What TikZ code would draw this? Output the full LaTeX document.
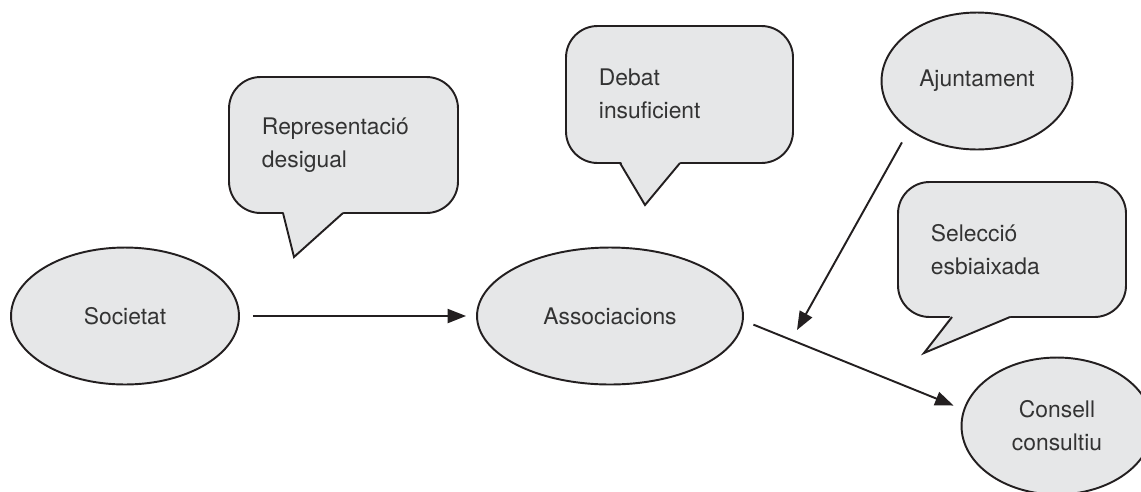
\documentclass[tikz,border=0pt]{standalone}
\usepackage{fontspec}
\setmainfont{TeX Gyre Heros}
\usepackage{tikz}
\usetikzlibrary{shapes.geometric}
\usetikzlibrary{arrows.meta}
\tikzset{>={Triangle[length=10.5pt,width=8pt]}}
\definecolor{bubblegrey}{RGB}{230,231,232}
\definecolor{inkgrey}{RGB}{35,31,32}
\definecolor{textgrey}{RGB}{51,51,51}

\begin{document}
\begin{tikzpicture}[
    x = 0.02cm, y = -0.02cm,
    line width = 1.1pt,
    actor/.style = {draw=inkgrey, fill=bubblegrey, ellipse, inner sep=0pt,
        minimum height=2.74cm, text=textgrey, align=center,
        font=\fontsize{13}{18.8}\selectfont},
    bubble/.style = {draw=inkgrey, fill=bubblegrey, rounded corners=18pt},
    says/.style = {text=textgrey, inner sep=0pt, anchor=west, align=left,
        font=\fontsize{13}{18.8}\selectfont},
    link/.style = {->, draw=inkgrey}
  ]
  \useasboundingbox (0,0) rectangle (1141,491);
  \clip (0,0) rectangle (1141,491);

  % speech bubbles
  \foreach \nm/\ax/\ay/\bx/\by/\ta/\tb/\tc/\txt in {
      rep/229/77/458/213/{283,213}/{294,257}/{343,213}/{Representació\\desigual},
      debat/566/26/793/163/{620,163}/{645,205}/{680,163}/{Debat\\insuficient},
      selec/898/182/1126/317/{952,317}/{924,353}/{1010,317}/{Selecció\\esbiaixada}}
  {
    \draw[bubble] (\ax,\ay) rectangle (\bx,\by);
    \fill[bubblegrey] (\ta) ++(0,-3) -- (\tb) -- (\tc) -- ++(0,-3) -- cycle;
    \draw[inkgrey, line join=miter] (\ta) -- (\tb) -- (\tc);
    \node[says] (\nm) at (\ax+32,\ay+68) {\txt};
  }

  % actors
  \node[actor, minimum width=4.56cm] (soc) at (125,316) {Societat};
  \node[actor, minimum width=5.32cm] (assoc) at (610,316) {Associacions};
  \node[actor, minimum width=3.82cm] (ajunt) at (977,81) {Ajuntament};
  \node[actor, minimum width=3.82cm] (consell) at (1057,426) {Consell\\consultiu};

  \coordinate (hit) at (797,330);

  \draw[link, shorten <=7.4pt, shorten >=5.7pt] (soc) -- (assoc);
  \draw[link, shorten <=6pt, shorten >=6pt] (assoc.-2) -- (consell.170);
  \draw[link, shorten <=8pt] (ajunt.south west) -- (hit);
\end{tikzpicture}
\end{document}
